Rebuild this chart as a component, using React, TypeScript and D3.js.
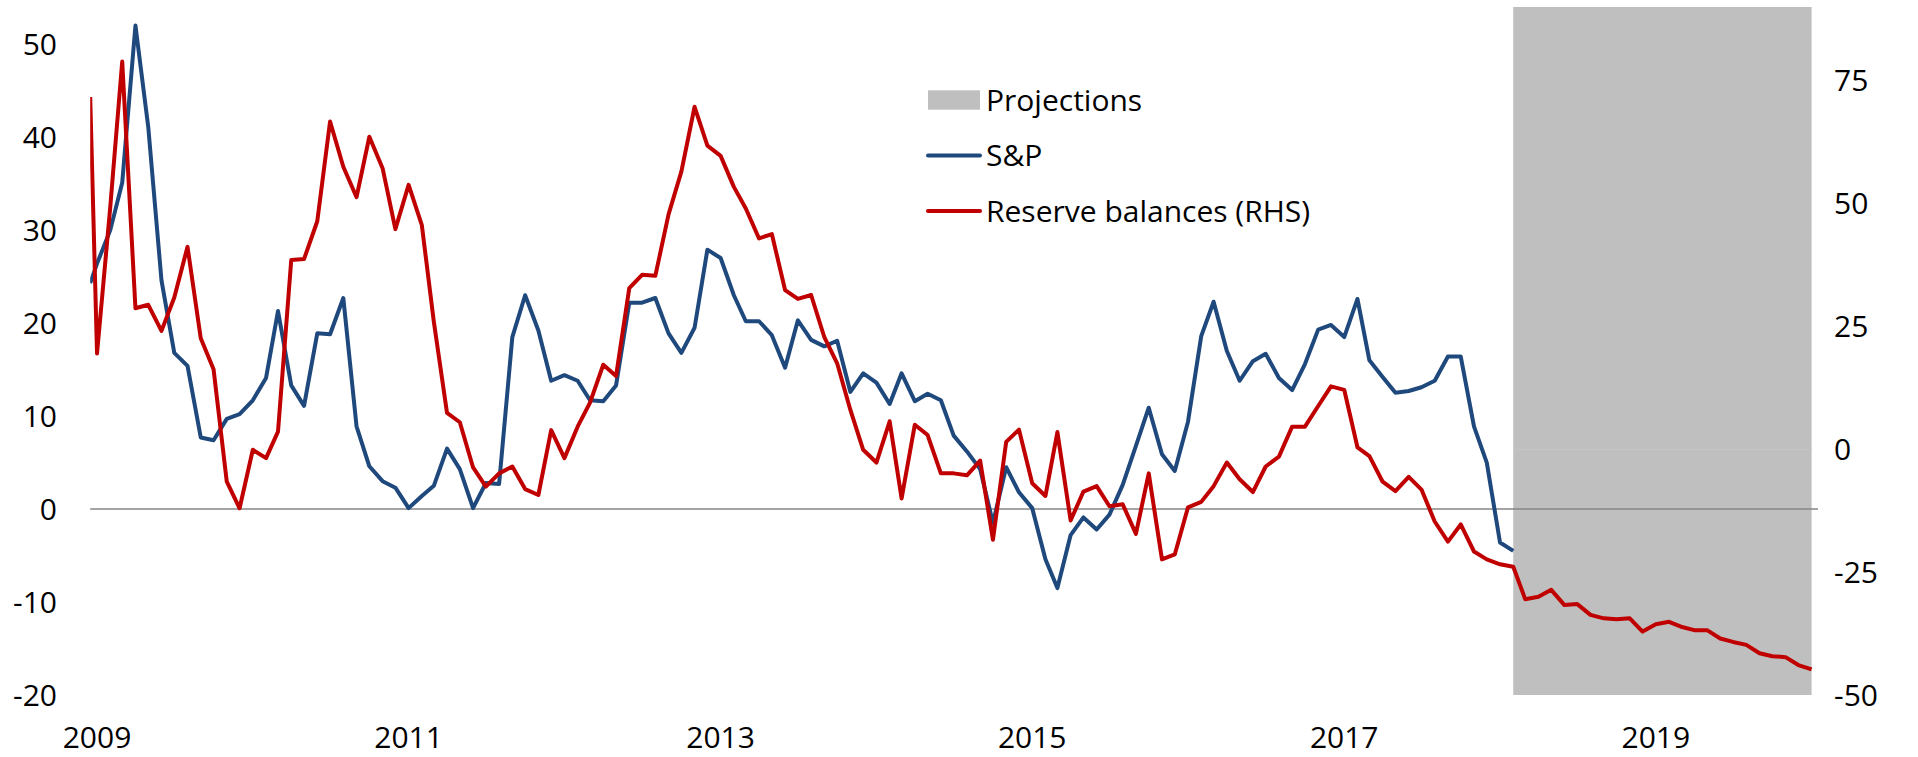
import React from "react";
import * as d3 from "d3";

// ---- data ----
// first observation mid-December 2008, then monthly (1st of month) from Jan 2009
const firstObsDate = "2008-12-16";
const monthlyStart = "2009-01-01";

// S&P (left axis), Dec 2008 .. Feb 2018
const spValues = [
  24.3, 26.4, 30.0, 35.1, 52.0, 41.1, 24.6, 16.8, 15.4, 7.7, 7.4, 9.7, 10.2,
  11.7, 14.1, 21.3, 13.3, 11.1, 18.9, 18.8, 22.7, 8.9, 4.6, 3.0, 2.3,
  0.1, 1.4, 2.5, 6.5, 4.3, 0.1, 2.8, 2.7, 18.5, 23.0, 19.2, 13.8,
  14.4, 13.8, 11.7, 11.6, 13.3, 22.2, 22.2, 22.7, 18.9, 16.8, 19.5, 27.9,
  27.0, 23.0, 20.2, 20.2, 18.7, 15.2, 20.3, 18.2, 17.5, 18.1, 12.6, 14.6,
  13.6, 11.3, 14.6, 11.6, 12.4, 11.7, 7.9, 6.2, 4.3, -1.5, 4.5, 1.8,
  0.1, -5.4, -8.5, -2.8, -0.9, -2.2, -0.6, 2.6, 6.8, 10.9, 5.9, 4.1,
  9.4, 18.6, 22.3, 17.0, 13.8, 15.9, 16.7, 14.1, 12.8, 15.6, 19.3, 19.8,
  18.5, 22.6, 16.0, 14.2, 12.5, 12.7, 13.1, 13.8, 16.4, 16.4, 8.9, 5.0,
  -3.6, -4.5,
];

// Reserve balances (right axis), Dec 2008 .. Jan 2020
const reserveValues = [
  71.7, 19.5, 49.3, 78.9, 28.7, 29.4, 24.1, 30.9, 41.2, 22.6, 16.3, -6.6, -12.0,
  -0.1, -1.8, 3.6, 38.5, 38.7, 46.4, 66.7, 57.5, 51.3, 63.6, 57.2, 44.8,
  53.8, 45.6, 26.0, 7.4, 5.5, -3.7, -7.6, -4.9, -3.5, -8.1, -9.3, 3.9,
  -1.8, 4.6, 9.5, 17.2, 14.9, 32.8, 35.5, 35.3, 47.8, 56.5, 69.7, 61.8,
  59.7, 53.4, 49.0, 42.9, 43.8, 32.4, 30.6, 31.4, 22.8, 17.5, 8.0, -0.1,
  -2.7, 5.7, -10.0, 5.0, 2.9, -4.9, -4.9, -5.3, -2.3, -18.4, 1.5, 4.0,
  -6.9, -9.5, 3.5, -14.5, -8.6, -7.5, -11.6, -11.2, -17.2, -4.9, -22.4, -21.4,
  -11.8, -10.7, -7.5, -2.7, -6.1, -8.7, -3.5, -1.5, 4.6, 4.6, 8.8, 12.8,
  12.1, 0.4, -1.4, -6.6, -8.5, -5.6, -8.2, -14.7, -18.8, -15.3, -20.8, -22.4,
  -23.4, -23.9, -30.5, -30.0, -28.6, -31.7, -31.5, -33.7, -34.4, -34.6, -34.4, -37.1,
  -35.6, -35.1, -36.1, -36.8, -36.8, -38.5, -39.2, -39.8, -41.5, -42.1, -42.3, -43.9,
  -44.8,
];

const axisDateRange = ["2008-12-16", "2020-01-16"];
const projectionPeriod = ["2018-02-01", "2020-01-01"];
const xTickYears = ["2009", "2011", "2013", "2015", "2017", "2019"];
const leftTicks = [-20, -10, 0, 10, 20, 30, 40, 50];
const rightTicks = [-50, -25, 0, 25, 50, 75];
const legendItems = ["Projections", "S&P", "Reserve balances (RHS)"];

// ---- layout ----
const W = 1918;
const H = 757;
const plot = { left: 90.2, right: 1818, top: 7, bottom: 695 };
const FONT = "'Open Sans', 'Noto Sans', sans-serif";
const FS = 30;
const BLUE = "#1F497D";
const RED = "#C00000";
const GREY = "#BFBFBF";

const parse = (s: string) => new Date(s + "T00:00:00Z");

function obsDates(n: number): Date[] {
  const out: Date[] = [parse(firstObsDate)];
  const start = parse(monthlyStart);
  for (let k = 0; k < n - 1; k++) out.push(d3.utcMonth.offset(start, k));
  return out;
}

export default function App() {
  const x = d3
    .scaleUtc()
    .domain(axisDateRange.map(parse))
    .range([plot.left, plot.right]);
  const yL = d3.scaleLinear().domain([-20, 54]).range([plot.bottom, plot.top]);
  const yR = d3.scaleLinear().domain([-50, 90]).range([plot.bottom, plot.top]);

  const spDates = obsDates(spValues.length);
  const resDates = obsDates(reserveValues.length);

  const lineL = d3
    .line<number>()
    .x((_, i) => x(spDates[i]))
    .y((d) => yL(d));
  const lineR = d3
    .line<number>()
    .x((_, i) => x(resDates[i]))
    .y((d) => yR(d));

  const p0 = x(parse(projectionPeriod[0]));
  const p1 = x(parse(projectionPeriod[1]));

  const legX = 928;
  const legTextX = 986;
  const legRows = [100, 155.5, 211];

  return (
    <div style={{ position: "absolute", left: 0, top: 0 }}>
      <svg width={W} height={H} style={{ display: "block" }}>
        <defs>
          <clipPath id="plotclip">
            <rect x={plot.left} y={0} width={plot.right - plot.left} height={H} />
          </clipPath>
        </defs>
        <rect x={0} y={0} width={W} height={H} fill="#ffffff" />

        {/* projection band */}
        <rect
          x={p0}
          y={plot.top}
          width={p1 - p0}
          height={plot.bottom - plot.top}
          fill={GREY}
        />
        <line
          x1={p0}
          x2={p1}
          y1={yR(0)}
          y2={yR(0)}
          stroke="#c6c6c6"
          strokeWidth={1}
        />

        {/* zero line */}
        <line
          x1={plot.left}
          x2={plot.right}
          y1={yL(0)}
          y2={yL(0)}
          stroke="#868686"
          strokeWidth={1.5}
        />

        <g clipPath="url(#plotclip)">
          <path
            d={lineL(spValues) || ""}
            fill="none"
            stroke={BLUE}
            strokeWidth={4}
            strokeLinejoin="round"
          />
          <path
            d={lineR(reserveValues) || ""}
            fill="none"
            stroke={RED}
            strokeWidth={4}
            strokeLinejoin="round"
          />
        </g>

        {/* left axis labels */}
        {leftTicks.map((t) => (
          <text
            key={"l" + t}
            x={57}
            y={yL(t) + 10.7}
            textAnchor="end"
            fontFamily={FONT}
            fontSize={FS}
            fill="#000"
          >
            {t}
          </text>
        ))}

        {/* right axis labels */}
        {rightTicks.map((t) => (
          <text
            key={"r" + t}
            x={1834}
            y={yR(t) + 10.7}
            textAnchor="start"
            fontFamily={FONT}
            fontSize={FS}
            fill="#000"
          >
            {t}
          </text>
        ))}

        {/* x axis labels */}
        {xTickYears.map((yr) => (
          <text
            key={yr}
            x={x(parse(yr + "-01-01"))}
            y={748}
            textAnchor="middle"
            fontFamily={FONT}
            fontSize={FS}
            fill="#000"
          >
            {yr}
          </text>
        ))}

        {/* legend */}
        <rect x={legX} y={legRows[0] - 9.7} width={52} height={19.4} fill={GREY} />
        <line
          x1={legX}
          x2={legX + 52}
          y1={legRows[1]}
          y2={legRows[1]}
          stroke={BLUE}
          strokeWidth={4}
          strokeLinecap="round"
        />
        <line
          x1={legX}
          x2={legX + 52}
          y1={legRows[2]}
          y2={legRows[2]}
          stroke={RED}
          strokeWidth={4}
          strokeLinecap="round"
        />
        {legendItems.map((t, i) => (
          <text
            key={t}
            x={legTextX}
            y={legRows[i] + 10.9}
            fontFamily={FONT}
            fontSize={FS}
            fill="#000"
          >
            {t}
          </text>
        ))}
      </svg>
    </div>
  );
}
